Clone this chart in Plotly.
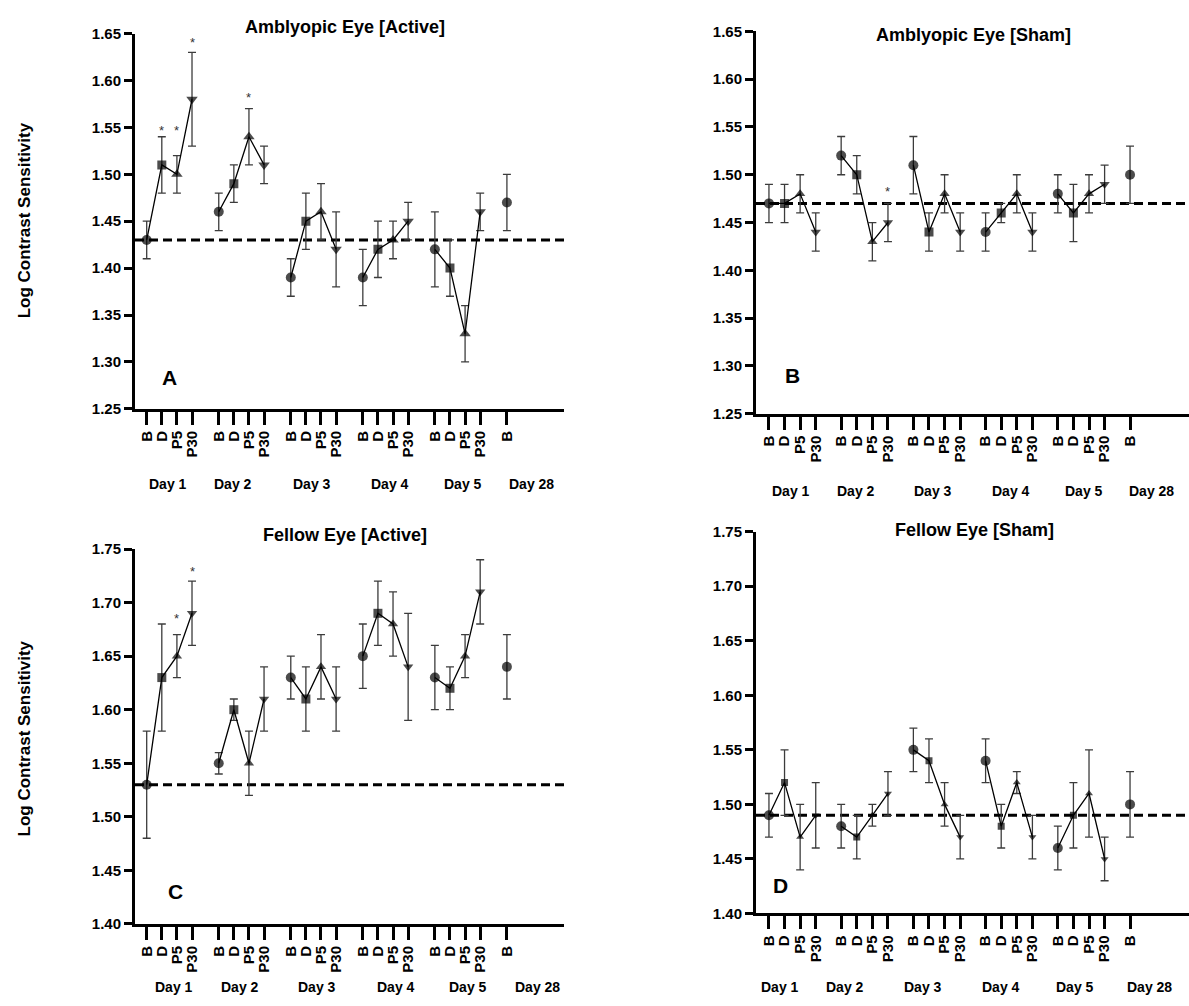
import plotly.graph_objects as go

W, H = 1189, 1006
FONT = "Liberation Sans, Arial, sans-serif"

# ---------------- data ----------------
point_labels = ["B", "D", "P5", "P30"] * 5 + ["B"]
day_labels = ["Day 1", "Day 2", "Day 3", "Day 4", "Day 5", "Day 28"]

# Panel A: Amblyopic Eye [Active]
A_mean = [1.43, 1.51, 1.50, 1.58, 1.46, 1.49, 1.54, 1.51, 1.39, 1.45, 1.46, 1.42,
          1.39, 1.42, 1.43, 1.45, 1.42, 1.40, 1.33, 1.46, 1.47]
A_hi = [1.45, 1.54, 1.52, 1.63, 1.48, 1.51, 1.57, 1.53, 1.41, 1.48, 1.49, 1.46,
        1.42, 1.45, 1.45, 1.47, 1.46, 1.43, 1.36, 1.48, 1.50]
A_lo = [1.41, 1.48, 1.48, 1.53, 1.44, 1.47, 1.51, 1.49, 1.37, 1.42, 1.43, 1.38,
        1.36, 1.39, 1.41, 1.43, 1.38, 1.37, 1.30, 1.44, 1.44]
A_base = 1.43
A_stars = [(1, 1.547), (2, 1.547), (3, 1.641), (6, 1.582)]

# Panel B: Amblyopic Eye [Sham]
B_mean = [1.47, 1.47, 1.48, 1.44, 1.52, 1.50, 1.43, 1.45, 1.51, 1.44, 1.48, 1.44,
          1.44, 1.46, 1.48, 1.44, 1.48, 1.46, 1.48, 1.49, 1.50]
B_hi = [1.49, 1.49, 1.50, 1.46, 1.54, 1.52, 1.45, 1.47, 1.54, 1.46, 1.50, 1.46,
        1.46, 1.47, 1.50, 1.46, 1.50, 1.49, 1.50, 1.51, 1.53]
B_lo = [1.45, 1.45, 1.46, 1.42, 1.50, 1.48, 1.41, 1.43, 1.48, 1.42, 1.46, 1.42,
        1.42, 1.45, 1.46, 1.42, 1.46, 1.43, 1.46, 1.47, 1.47]
B_base = 1.47
B_stars = [(7, 1.482)]

# Panel C: Fellow Eye [Active]
C_mean = [1.53, 1.63, 1.65, 1.69, 1.55, 1.60, 1.55, 1.61, 1.63, 1.61, 1.64, 1.61,
          1.65, 1.69, 1.68, 1.64, 1.63, 1.62, 1.65, 1.71, 1.64]
C_hi = [1.58, 1.68, 1.67, 1.72, 1.56, 1.61, 1.58, 1.64, 1.65, 1.64, 1.67, 1.64,
        1.68, 1.72, 1.71, 1.69, 1.66, 1.64, 1.67, 1.74, 1.67]
C_lo = [1.48, 1.58, 1.63, 1.66, 1.54, 1.59, 1.52, 1.58, 1.61, 1.58, 1.61, 1.58,
        1.62, 1.66, 1.65, 1.59, 1.60, 1.60, 1.63, 1.68, 1.61]
C_base = 1.53
C_stars = [(2, 1.685), (3, 1.729)]

# Panel D: Fellow Eye [Sham]
D_mean = [1.49, 1.52, 1.47, 1.49, 1.48, 1.47, 1.49, 1.51, 1.55, 1.54, 1.50, 1.47,
          1.54, 1.48, 1.52, 1.47, 1.46, 1.49, 1.51, 1.45, 1.50]
D_hi = [1.51, 1.55, 1.50, 1.52, 1.50, 1.49, 1.50, 1.53, 1.57, 1.56, 1.52, 1.49,
        1.56, 1.50, 1.53, 1.49, 1.48, 1.52, 1.55, 1.47, 1.53]
D_lo = [1.47, 1.49, 1.44, 1.46, 1.46, 1.45, 1.48, 1.49, 1.53, 1.52, 1.48, 1.45,
        1.52, 1.46, 1.51, 1.45, 1.44, 1.46, 1.47, 1.43, 1.47]
D_base = 1.49
D_stars = []

# ---------------- layout helpers (pixel geometry) ----------------
def xdom(a, b):
    return [a / W, b / W]

def ydom(top, bottom):
    return [1 - bottom / H, 1 - top / H]

def py(p):
    return 1 - p / H

panels = [
    dict(name="A", title="Amblyopic Eye [Active]", mean=A_mean, hi=A_hi, lo=A_lo, base=A_base,
         stars=A_stars, xd=(135, 564), yd=(25, 406.7), yr=(1.25, 1.65), xr=(-0.775, 27.63),
         stride=4.77, title_pos=(345, 18), letter_pos=(169, 375), ytitle=(24, 215),
         day_x=[1.41, 5.7, 10.95, 16.1, 20.96, 25.5], day_y=483, msize=(10, 9, 10, 10)),
    dict(name="B", title="Amblyopic Eye [Sham]", mean=B_mean, hi=B_hi, lo=B_lo, base=B_base,
         stars=B_stars, xd=(756, 1189), yd=(22.7, 411.7), yr=(1.25, 1.65), xr=(-0.83, 26.93),
         stride=4.63, title_pos=(973, 26), letter_pos=(792, 373), ytitle=None,
         day_x=[1.44, 5.6, 10.5, 15.5, 20.2, 24.5], day_y=490, msize=(10, 9, 9, 9)),
    dict(name="C", title="Fellow Eye [Active]", mean=C_mean, hi=C_hi, lo=C_lo, base=C_base,
         stars=C_stars, xd=(135, 564), yd=(549.3, 930.7), yr=(1.40, 1.75), xr=(-0.775, 27.63),
         stride=4.77, title_pos=(345, 535), letter_pos=(175, 898), ytitle=(24, 742),
         day_x=[1.8, 6.18, 11.3, 16.5, 21.3, 25.9], day_y=995, msize=(10, 9, 9, 9)),
    dict(name="D", title="Fellow Eye [Sham]", mean=D_mean, hi=D_hi, lo=D_lo, base=D_base,
         stars=D_stars, xd=(756, 1189), yd=(531.7, 920), yr=(1.40, 1.75), xr=(-0.83, 26.93),
         stride=4.63, title_pos=(974, 530), letter_pos=(781, 892), ytitle=None,
         day_x=[0.7, 4.9, 9.9, 14.9, 19.6, 24.4], day_y=995, msize=(10, 7, 7, 7)),
]

symbols = ["circle", "square", "triangle-up", "triangle-down"]

fig = go.Figure()
annotations = []
shapes = []
layout_axes = {}

for k, p in enumerate(panels):
    n = k + 1
    xa = "x" if n == 1 else f"x{n}"
    ya = "y" if n == 1 else f"y{n}"
    xkey = "xaxis" if n == 1 else f"xaxis{n}"
    ykey = "yaxis" if n == 1 else f"yaxis{n}"

    xs = []
    for g in range(5):
        for i in range(4):
            xs.append(g * p["stride"] + i)
    xs.append(5 * p["stride"])

    shapes.append(dict(type="line", xref=xa, yref=ya, x0=p["xr"][0], x1=p["xr"][1],
                       y0=p["base"], y1=p["base"], layer="below",
                       line=dict(color="black", width=3, dash="9px,5px")))

    groups = [list(range(g * 4, g * 4 + 4)) for g in range(5)] + [[20]]
    for idx in groups:
        gx = [xs[j] for j in idx]
        gy = [p["mean"][j] for j in idx]
        up = [p["hi"][j] - p["mean"][j] for j in idx]
        dn = [p["mean"][j] - p["lo"][j] for j in idx]
        sym = [symbols[j % 4] if j < 20 else "circle" for j in idx]
        siz = [p["msize"][j % 4] if j < 20 else p["msize"][0] for j in idx]
        fig.add_trace(go.Scatter(
            x=gx, y=gy, mode="lines+markers", xaxis=xa, yaxis=ya,
            line=dict(color="black", width=1.3),
            marker=dict(symbol=sym, size=siz, color="black", line=dict(width=0)),
            error_y=dict(type="data", symmetric=False, array=up, arrayminus=dn,
                         color="#3c3c3c", thickness=1.3, width=4),
            showlegend=False, hoverinfo="skip"))

    yt = [round(p["yr"][0] + 0.05 * i, 2) for i in range(int(round((p["yr"][1] - p["yr"][0]) / 0.05)) + 1)]
    layout_axes[xkey] = dict(
        domain=xdom(*p["xd"]), range=list(p["xr"]), anchor=ya,
        showline=True, linecolor="black", linewidth=3, showgrid=False, zeroline=False,
        ticks="outside", ticklen=13, tickwidth=3, tickcolor="black",
        tickmode="array", tickvals=xs, ticktext=[f"<b>{t}</b>" for t in point_labels],
        tickangle=-90, tickfont=dict(family=FONT, size=15, color="black"), fixedrange=True)
    layout_axes[ykey] = dict(
        domain=ydom(*p["yd"]), range=list(p["yr"]), anchor=xa,
        showline=True, linecolor="black", linewidth=3, showgrid=False, zeroline=False,
        ticks="outside", ticklen=8, tickwidth=3, tickcolor="black",
        tickmode="array", tickvals=yt, ticktext=[f"<b>{v:.2f}</b>" for v in yt],
        tickfont=dict(family=FONT, size=15, color="black"), fixedrange=True)

    annotations.append(dict(text=f"<b>{p['title']}</b>", xref="paper", yref="paper",
                            x=p["title_pos"][0] / W, y=py(p["title_pos"][1]),
                            xanchor="center", yanchor="middle", showarrow=False,
                            font=dict(family=FONT, size=18, color="black")))
    annotations.append(dict(text=f"<b>{p['name']}</b>", xref="paper", yref="paper",
                            x=p["letter_pos"][0] / W, y=py(p["letter_pos"][1]),
                            xanchor="center", yanchor="middle", showarrow=False,
                            font=dict(family=FONT, size=21, color="black")))
    if p["ytitle"]:
        annotations.append(dict(text="<b>Log Contrast Sensitivity</b>", xref="paper", yref="paper",
                                x=p["ytitle"][0] / W, y=py(p["ytitle"][1]), textangle=-90,
                                xanchor="center", yanchor="middle", showarrow=False,
                                font=dict(family=FONT, size=17, color="black")))
    for dx, dl in zip(p["day_x"], day_labels):
        annotations.append(dict(text=f"<b>{dl}</b>", xref=xa, yref="paper",
                                x=dx, y=py(p["day_y"]), xanchor="center", yanchor="middle",
                                showarrow=False, font=dict(family=FONT, size=14, color="black")))
    for j, sy in p["stars"]:
        annotations.append(dict(text="*", xref=xa, yref=ya, x=xs[j], y=sy,
                                xanchor="center", yanchor="middle", showarrow=False,
                                font=dict(family=FONT, size=13, color="#333333")))

fig.update_layout(
    width=W, height=H, margin=dict(l=0, r=0, t=0, b=0),
    paper_bgcolor="white", plot_bgcolor="white",
    shapes=shapes, annotations=annotations, **layout_axes)

fig.write_html("out.html", config={"displayModeBar": False, "staticPlot": True},
               post_script="document.body.style.margin='0';document.body.style.padding='0';"
                           "document.body.style.overflow='hidden';")
